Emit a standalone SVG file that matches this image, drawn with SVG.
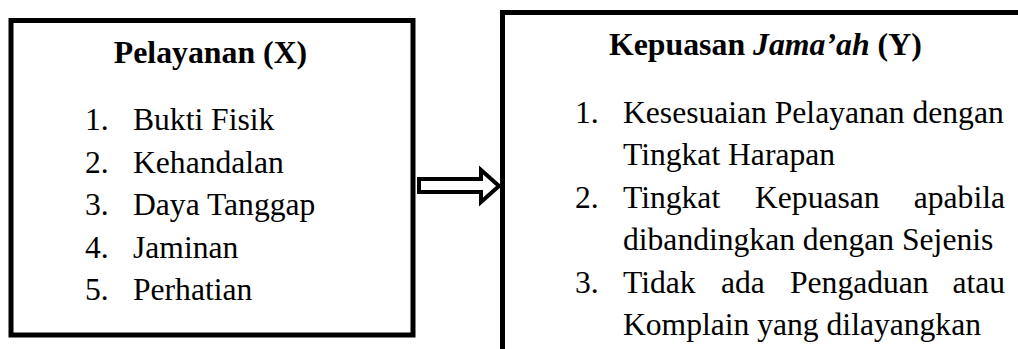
<svg xmlns="http://www.w3.org/2000/svg" width="1018" height="349" viewBox="0 0 1018 349">
<style>
.box{fill:#fff;stroke:#000;stroke-width:5}
.t{font-family:"Liberation Serif","Times New Roman","DejaVu Serif",serif;font-size:31.6px;fill:#000}
.b{font-weight:bold;font-size:31.8px}
.arrow{fill:#fff;stroke:#000;stroke-width:4;stroke-linejoin:miter}
</style>
<rect x="0" y="0" width="1018" height="349" fill="#fff"/>
<g id="node-pelayanan">
<rect class="box" x="11" y="20.5" width="402" height="314.5"/>
<text class="t b" x="210.5" y="63" text-anchor="middle">Pelayanan (X)</text>
<text class="t" x="85" y="130">1.</text><text class="t" x="133" y="130">Bukti Fisik</text>
<text class="t" x="85" y="173">2.</text><text class="t" x="133" y="173">Kehandalan</text>
<text class="t" x="85" y="215">3.</text><text class="t" x="133" y="215">Daya Tanggap</text>
<text class="t" x="85" y="258">4.</text><text class="t" x="133" y="258">Jaminan</text>
<text class="t" x="85" y="300">5.</text><text class="t" x="133" y="300">Perhatian</text>
</g>
<g id="connectors">
<polygon class="arrow" points="419,179 481,179 481,170 499,186 481,202 481,192 419,192"/>
</g>
<g id="node-kepuasan">
<rect class="box" x="502.5" y="12.5" width="600" height="400"/>
<text class="t b" x="609" y="55">Kepuasan <tspan font-style="italic">Jama’ah</tspan> (Y)</text>
<text class="t" x="575" y="123">1.</text><text class="t" x="623" y="123">Kesesuaian Pelayanan dengan</text>
<text class="t" x="623" y="165">Tingkat Harapan</text>
<text class="t" x="575" y="208">2.</text><text class="t" x="623" y="208">Tingkat</text><text class="t" x="755" y="208">Kepuasan</text><text class="t" x="1005" y="208" text-anchor="end">apabila</text>
<text class="t" x="623" y="250">dibandingkan dengan Sejenis</text>
<text class="t" x="575" y="293">3.</text><text class="t" x="623" y="293">Tidak</text><text class="t" x="721" y="293">ada</text><text class="t" x="790" y="293">Pengaduan</text><text class="t" x="1005" y="293" text-anchor="end">atau</text>
<text class="t" x="623" y="335">Komplain yang dilayangkan</text>
</g>
</svg>
